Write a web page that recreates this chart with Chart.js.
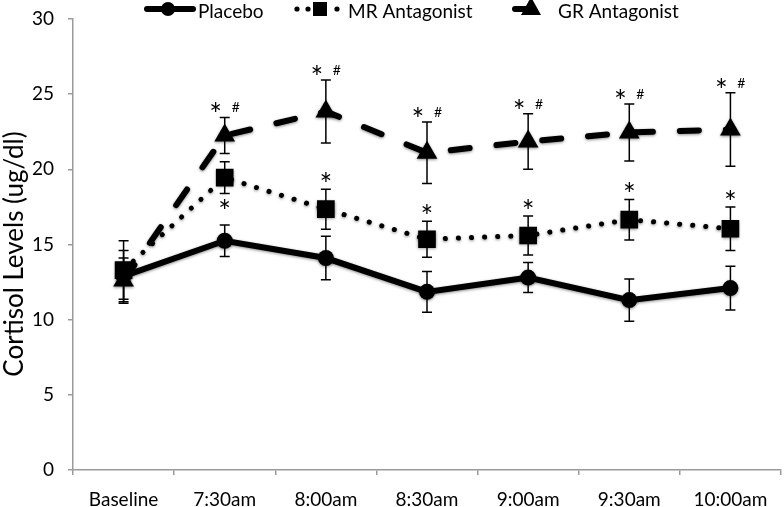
<!DOCTYPE html>
<html>
<head>
<meta charset="utf-8">
<script src="https://cdn.jsdelivr.net/npm/chart.js@4.4.0/dist/chart.umd.min.js"></script>
<style>
  html, body { margin: 0; padding: 0; background: #fff; }
  #wrap { width: 784px; height: 507px; position: relative; }
</style>
</head>
<body>
<div id="wrap"><canvas id="cortisolChart"></canvas></div>
<script>
// chart data
const categories = ['Baseline', '7:30am', '8:00am', '8:30am', '9:00am', '9:30am', '10:00am'];
const yTicks = [0, 5, 10, 15, 20, 25, 30];
const yTitle = 'Cortisol Levels (ug/dl)';

const placebo    = [12.9, 15.25, 14.1, 11.85, 12.8, 11.3, 12.1];
const placeboErr = [1.7, 1.05, 1.45, 1.35, 1.0, 1.4, 1.45];

const mrAntagonist = [13.3, 19.45, 17.35, 15.35, 15.6, 16.65, 16.05];
const mrErr        = [1.95, 1.05, 1.33, 1.2, 1.3, 1.35, 1.45];

const grAntagonist = [12.6, 22.25, 23.85, 21.1, 21.85, 22.45, 22.65];
const grErr        = [1.5, 1.2, 2.1, 2.05, 1.85, 1.9, 2.45];

// significance marks (vs placebo "*", vs MR "#")
const mrStars = ['', '*', '*', '*', '*', '*', '*'];
const grStars = ['', '*', '*', '*', '*', '*', '*'];
const grHashes = ['', '#', '#', '#', '#', '#', '#'];

const FONT = 'Lato, "Open Sans", sans-serif';

// draw a glyph with its ink centred on (x, y)
function centredText(ctx, text, x, y) {
  const m = ctx.measureText(text);
  const h = m.actualBoundingBoxAscent - m.actualBoundingBoxDescent;
  ctx.fillText(text, x, y + h / 2);
}

// soft edge like the original export
const shadowPlugin = {
  id: 'softShadow',
  beforeDatasetsDraw(chart) {
    const ctx = chart.ctx;
    ctx.save();
    ctx.shadowColor = 'rgba(0,0,0,0.45)';
    ctx.shadowBlur = 3;
    ctx.shadowOffsetY = 1;
  },
  afterDatasetsDraw(chart) {
    chart.ctx.restore();
  }
};

// error bars for every dataset
const errorBarPlugin = {
  id: 'errorBars',
  afterDatasetsDraw(chart) {
    const ctx = chart.ctx;
    const yScale = chart.scales.y;
    ctx.save();
    ctx.strokeStyle = '#000';
    ctx.lineWidth = 1.5;
    chart.data.datasets.forEach((ds, i) => {
      const meta = chart.getDatasetMeta(i);
      meta.data.forEach((pt, j) => {
        const v = ds.data[j];
        const e = ds.errors[j];
        const top = yScale.getPixelForValue(v + e);
        const bot = yScale.getPixelForValue(v - e);
        const x = pt.x;
        ctx.beginPath();
        ctx.moveTo(x, top); ctx.lineTo(x, bot);
        ctx.moveTo(x - 5, top); ctx.lineTo(x + 5, top);
        ctx.moveTo(x - 5, bot); ctx.lineTo(x + 5, bot);
        ctx.stroke();
      });
    });
    ctx.restore();
  }
};

// * and # above the bars
const marksPlugin = {
  id: 'marks',
  afterDatasetsDraw(chart) {
    const ctx = chart.ctx;
    const yScale = chart.scales.y;
    const mrMeta = chart.getDatasetMeta(1);
    const grMeta = chart.getDatasetMeta(2);
    ctx.save();
    ctx.fillStyle = '#000';
    ctx.textAlign = 'center';
    ctx.textBaseline = 'alphabetic';

    mrStars.forEach((s, j) => {
      if (!s) return;
      const x = mrMeta.data[j].x;
      ctx.font = '30px ' + FONT;
      if (j === 1) {
        // no room above at 7:30, the star sits under the bar
        const bot = yScale.getPixelForValue(mrAntagonist[j] - mrErr[j]);
        centredText(ctx, s, x, bot + 11);
      } else {
        const top = yScale.getPixelForValue(mrAntagonist[j] + mrErr[j]);
        centredText(ctx, s, x, top - 12);
      }
    });

    grStars.forEach((s, j) => {
      if (!s) return;
      const x = grMeta.data[j].x;
      const top = yScale.getPixelForValue(grAntagonist[j] + grErr[j]);
      ctx.font = '30px ' + FONT;
      centredText(ctx, s, x - 9, top - 10);
      ctx.font = '14px ' + FONT;
      centredText(ctx, grHashes[j], x + 11, top - 10);
    });
    ctx.restore();
  }
};

// legend strip across the top + y title
const legendPlugin = {
  id: 'topLegend',
  afterDraw(chart) {
    const ctx = chart.ctx;
    const y = 9;
    ctx.save();
    ctx.fillStyle = '#000';
    ctx.strokeStyle = '#000';

    // Placebo
    ctx.lineWidth = 6;
    ctx.lineCap = 'round';
    ctx.beginPath(); ctx.moveTo(147, y); ctx.lineTo(193, y); ctx.stroke();
    ctx.beginPath(); ctx.arc(168, y, 7, 0, Math.PI * 2); ctx.fill();

    // MR Antagonist
    [297, 308, 337].forEach(x => {
      ctx.beginPath(); ctx.arc(x, y, 2.6, 0, Math.PI * 2); ctx.fill();
    });
    ctx.fillRect(313, y - 7, 14, 14);

    // GR Antagonist
    ctx.beginPath(); ctx.moveTo(515, y); ctx.lineTo(530, y); ctx.stroke();
    ctx.beginPath();
    ctx.moveTo(531, y - 12); ctx.lineTo(541, y + 6); ctx.lineTo(521, y + 6); ctx.closePath();
    ctx.fill();

    ctx.font = '19px ' + FONT;
    ctx.textBaseline = 'middle';
    ctx.textAlign = 'left';
    ctx.fillText('Placebo', 198, 12);
    ctx.fillText('MR Antagonist', 348, 12);
    ctx.fillText('GR Antagonist', 558, 12);

    // y axis title
    ctx.translate(15, 254);
    ctx.rotate(-Math.PI / 2);
    ctx.textAlign = 'center';
    ctx.font = '26px ' + FONT;
    ctx.fillText(yTitle, 0, 0);
    ctx.restore();
  }
};

const datasets = [
  {
    label: 'Placebo',
    data: placebo,
    errors: placeboErr,
    borderColor: '#000',
    backgroundColor: '#000',
    borderWidth: 6,
    pointStyle: 'circle',
    pointRadius: 8,
    pointBorderWidth: 0,
  },
  {
    label: 'MR Antagonist',
    data: mrAntagonist,
    errors: mrErr,
    borderColor: '#000',
    backgroundColor: '#000',
    borderWidth: 5,
    borderDash: [0.1, 13],
    borderCapStyle: 'round',
    pointStyle: 'rect',
    pointRadius: 12.5,
    pointBorderWidth: 0,
  },
  {
    label: 'GR Antagonist',
    data: grAntagonist,
    errors: grErr,
    borderColor: '#000',
    backgroundColor: '#000',
    borderWidth: 6,
    borderDash: [19, 27],
    borderCapStyle: 'round',
    pointStyle: 'triangle',
    pointRadius: 12,
    pointBorderWidth: 0,
  },
];

const ctx = document.getElementById('cortisolChart').getContext('2d');
const cortisolChart = new Chart(ctx, {
  type: 'line',
  data: {
    labels: categories,
    datasets: datasets,
  },
  options: {
    responsive: true,
    maintainAspectRatio: false,
    animation: false,
    layout: {
      autoPadding: false, // otherwise the big markers eat into the plot width
      padding: { top: 19, right: 3, left: 0, bottom: 0 },
    },
    plugins: {
      legend: { display: false },
      tooltip: { enabled: false },
    },
    elements: { line: { tension: 0 } },
    scales: {
      x: {
        type: 'category',
        offset: true,
        grid: {
          offset: true,
          drawOnChartArea: false,
          drawTicks: true,
          tickLength: 5,
          color: '#9a9a9a',
          lineWidth: 1.5,
        },
        border: { color: '#9a9a9a', width: 1.5 },
        ticks: {
          color: '#000',
          font: { family: FONT, size: 19 },
          padding: 13,
          maxRotation: 0,
        },
        afterFit: (scale) => {
          scale.height = 37;
          scale.paddingLeft = 0;
          scale.paddingRight = 0;
        },
      },
      y: {
        min: 0,
        max: 30,
        afterBuildTicks: (scale) => { scale.ticks = yTicks.map(v => ({ value: v })); },
        grid: {
          drawOnChartArea: false,
          drawTicks: true,
          tickLength: 5,
          color: '#9a9a9a',
          lineWidth: 1.5,
        },
        border: { color: '#9a9a9a', width: 1.5 },
        ticks: {
          color: '#000',
          font: { family: FONT, size: 19 },
          padding: 14,
        },
        afterFit: (scale) => {
          scale.width = 73;
          scale.paddingTop = 0;
          scale.paddingBottom = 0;
        },
      },
    },
  },
  plugins: [shadowPlugin, errorBarPlugin, marksPlugin, legendPlugin],
});
</script>
</body>
</html>
